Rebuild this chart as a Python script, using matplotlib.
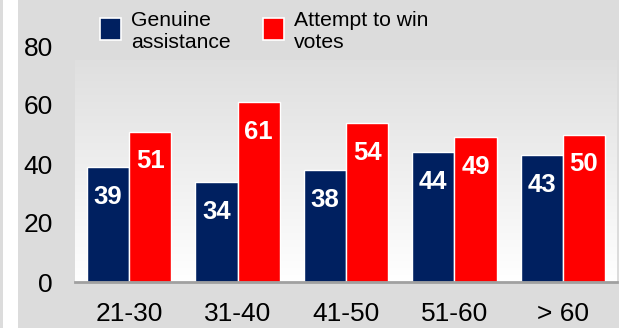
import numpy as np
import matplotlib
matplotlib.use('Agg')
import matplotlib.pyplot as plt
from matplotlib.patches import Rectangle

plt.rcParams['font.family'] = ['Liberation Sans', 'DejaVu Sans']

# data
age_groups = ['21-30', '31-40', '41-50', '51-60', '> 60']
genuine = [39, 34, 38, 44, 43]
win_votes = [51, 61, 54, 49, 50]
series_names = ['Genuine\nassistance', 'Attempt to win\nvotes']
colors = ['#002060', '#ff0000']

fig = plt.figure(figsize=(6.19, 3.28), dpi=100, facecolor='#dcdcdc')
# white strip on the left edge
fig.patches.append(Rectangle((3 / 619, 0), 15 / 619, 1, transform=fig.transFigure,
                             facecolor='white', edgecolor='none', zorder=0))

ax = fig.add_axes([75 / 619, 46 / 328, 542 / 619, 250.75 / 328])
ax.set_facecolor('none')

# gradient background of the plot area (gray at top, white at bottom)
grad = np.linspace(0, 1, 256).reshape(-1, 1)
ax.imshow(grad, cmap=matplotlib.colors.LinearSegmentedColormap.from_list('g', ['#ffffff', '#dfdfdf']),
          extent=(-0.5, 4.5, 0, 75), aspect='auto', origin='lower', zorder=0)

x = np.arange(len(age_groups))
w = 0.39
for vals, col, off in [(genuine, colors[0], -w / 2), (win_votes, colors[1], w / 2)]:
    bars = ax.bar(x + off, vals, w, color=col, edgecolor='white', linewidth=1, zorder=2)
    for b, v in zip(bars, vals):
        ax.annotate(str(v), (b.get_x() + b.get_width() / 2, v), xytext=(0, -21.5),
                    textcoords='offset points', ha='center', va='center',
                    color='white', fontsize=18.5, fontweight='bold', zorder=3)

ax.set_xlim(-0.5, 4.5)
ax.set_ylim(0, 85)
ax.set_yticks([0, 20, 40, 60, 80])
ax.set_xticks(x)
ax.set_xticklabels(age_groups)
ax.tick_params(axis='both', length=0, labelsize=19)
ax.tick_params(axis='y', pad=16)
ax.tick_params(axis='x', pad=14.5)
for s in ['top', 'right', 'left']:
    ax.spines[s].set_visible(False)
ax.spines['bottom'].set_color('#a0a0a0')
ax.spines['bottom'].set_linewidth(2)

# legend
leg_x = [100, 263]
for lx, name, col in zip(leg_x, series_names, colors):
    fig.patches.append(Rectangle((lx / 619, (328 - 40) / 328), 21 / 619, 22 / 328,
                                 transform=fig.transFigure, facecolor=col,
                                 edgecolor='white', linewidth=1.2))
    fig.text((lx + 31) / 619, (328 - 11) / 328, name, fontsize=15.2, va='top',
             ha='left', linespacing=1.22)

fig.savefig('out.png', dpi=100, facecolor=fig.get_facecolor())
